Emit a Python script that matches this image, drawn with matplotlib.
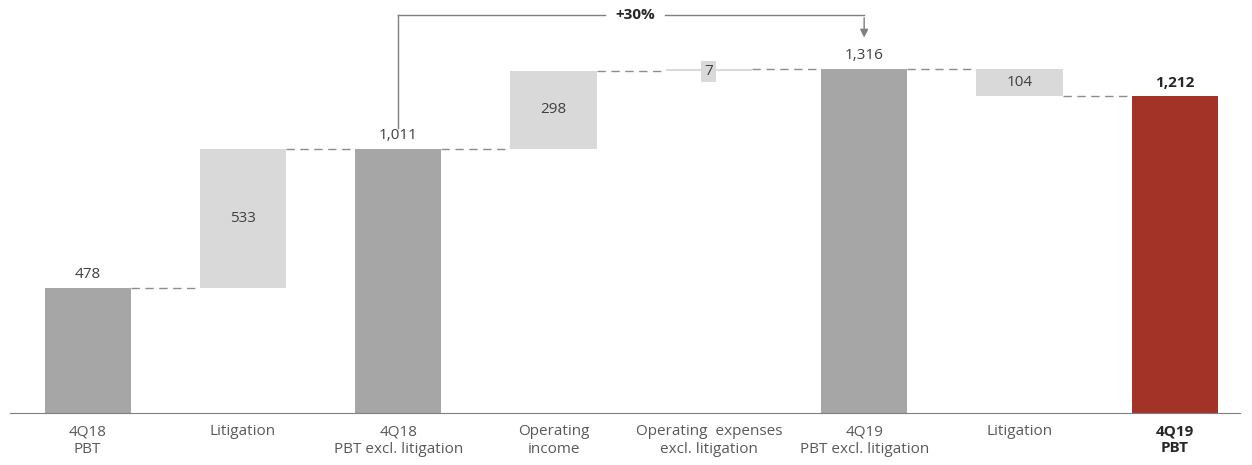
import numpy as np
import matplotlib.pyplot as plt

plt.rcParams['font.family'] = ['Open Sans', 'DejaVu Sans']

# 数据
categories = ['4Q18\nPBT', 'Litigation', '4Q18\nPBT excl. litigation', 'Operating\nincome',
              'Operating  expenses\nexcl. litigation', '4Q19\nPBT excl. litigation', 'Litigation',
              '4Q19\nPBT']
values = [478, 533, 1011, 298, 7, 1316, -104, 1212]
kinds = ['total', 'delta', 'total', 'delta', 'delta', 'total', 'delta', 'final']
labels = ['478', '533', '1,011', '298', '7', '1,316', '104', '1,212']
growth_label = '+30%'

c_total = '#A6A6A6'
c_delta = '#D9D9D9'
c_final = '#A33327'
c_text = '#404040'
fs = 11

fig = plt.figure(figsize=(12.52, 4.65), dpi=100)
ax = fig.add_axes([10 / 1252, 52 / 465, 1230 / 1252, 403 / 465])

x = np.arange(len(values))
w = 0.555
bottoms = []
tops = []
level = 0
for v, k in zip(values, kinds):
    if k == 'delta':
        b = min(level, level + v)
        t = max(level, level + v)
        level = level + v
    else:
        b, t = 0, v
        level = v
    bottoms.append(b)
    tops.append(t)

colors = [c_total if k == 'total' else c_final if k == 'final' else c_delta for k in kinds]
ax.bar(x, np.array(tops) - np.array(bottoms), bottom=bottoms, width=w, color=colors, zorder=2)

# 连接虚线
lv = 0
levels = []
for v, k in zip(values, kinds):
    lv = lv + v if k == 'delta' else v
    levels.append(lv)
for i in range(len(values) - 1):
    ax.plot([x[i] + w / 2, x[i + 1] - w / 2], [levels[i], levels[i]], ls=(0, (6, 4)),
            color='#8C8C8C', lw=1, zorder=1)

# 数值标签
for i, (k, lab) in enumerate(zip(kinds, labels)):
    if k == 'delta':
        mid = (bottoms[i] + tops[i]) / 2
        if tops[i] - bottoms[i] < 50:
            ax.text(x[i], tops[i] - 10, lab, ha='center', va='center', fontsize=fs, color=c_text,
                    bbox=dict(boxstyle='square,pad=0.2', fc=c_delta, ec='none'), zorder=3)
        else:
            ax.text(x[i], mid, lab, ha='center', va='center', fontsize=fs, color=c_text, zorder=3)
    else:
        ax.text(x[i], tops[i] + 22, lab, ha='center', va='bottom', fontsize=fs,
                color='#262626' if k == 'final' else c_text,
                fontweight='bold' if k == 'final' else 'normal')

# 增长括号
ytop = 1520
ax.plot([x[2], x[2]], [1090, ytop], color='#7F7F7F', lw=1)
ax.plot([x[2], 3.33], [ytop, ytop], color='#7F7F7F', lw=1)
ax.plot([3.72, x[5]], [ytop, ytop], color='#7F7F7F', lw=1)
ax.annotate('', xy=(x[5], 1425), xytext=(x[5], ytop + 2),
            arrowprops=dict(arrowstyle='-|>', color='#7F7F7F', lw=1, mutation_scale=12))
ax.text(3.525, ytop, growth_label, ha='center', va='center', fontsize=fs, fontweight='bold', color='#262626')

ax.set_xlim(-0.5, 7.42)
ax.set_ylim(0, 1541)
ax.set_xticks(x)
ax.set_xticklabels(categories, fontsize=fs, color='#595959', linespacing=1.3)
for t, k in zip(ax.get_xticklabels(), kinds):
    if k == 'final':
        t.set_fontweight('bold')
        t.set_color('#262626')
ax.tick_params(axis='x', length=0, pad=8)
ax.set_yticks([])
for s in ['top', 'right', 'left']:
    ax.spines[s].set_visible(False)
ax.spines['bottom'].set_color('#7F7F7F')

fig.savefig('out.png', dpi=100)
